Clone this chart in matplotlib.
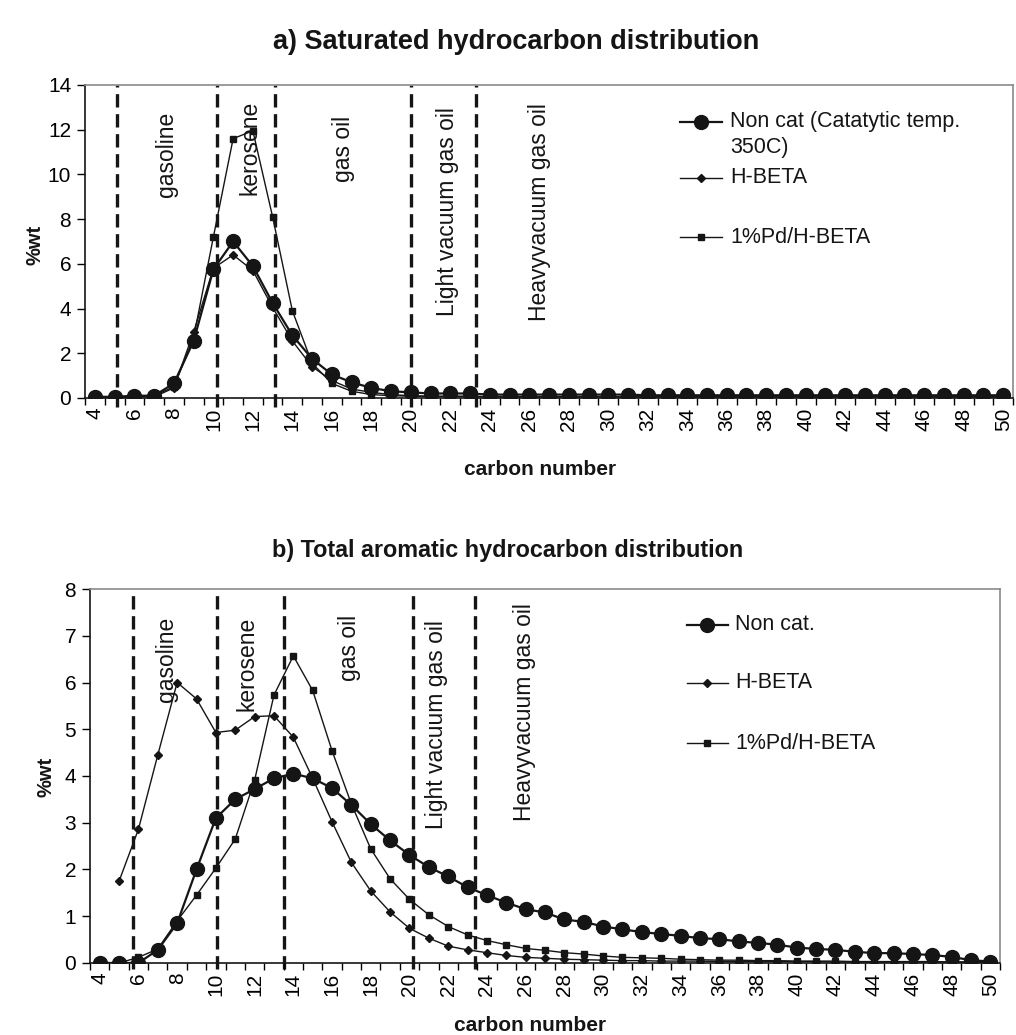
import numpy as np
import matplotlib
matplotlib.use("Agg")
import matplotlib.pyplot as plt
from matplotlib.lines import Line2D

plt.rcParams['font.family'] = ['Liberation Sans', 'DejaVu Sans']

carbon = list(range(4, 51))

# a) saturated hydrocarbons, %wt, C4..C50
sat_noncat = [0.05, 0.05, 0.1, 0.1, 0.65, 2.55, 5.75, 7.0, 5.9, 4.25, 2.8, 1.75, 1.05, 0.7,
              0.45, 0.3, 0.25, 0.2, 0.2, 0.2, 0.15, 0.15, 0.15, 0.15, 0.15, 0.15, 0.15, 0.15,
              0.12, 0.12, 0.12, 0.12, 0.12, 0.12, 0.12, 0.12, 0.12, 0.12, 0.12, 0.12, 0.12,
              0.12, 0.12, 0.12, 0.12, 0.12, 0.12]
sat_hbeta = [0.02, 0.02, 0.05, 0.05, 0.45, 2.95, 5.8, 6.4, 5.7, 4.05, 2.55, 1.4, 0.78, 0.4,
             0.25, 0.15, 0.1, 0.08, 0.08, 0.08, 0.06, 0.06, 0.05, 0.05, 0.05, 0.05, 0.05, 0.05,
             0.05, 0.05, 0.05, 0.05, 0.05, 0.05, 0.05, 0.05, 0.05, 0.05, 0.05, 0.05, 0.05,
             0.05, 0.05, 0.05, 0.05, 0.05, 0.05]
sat_pd = [0.02, 0.02, 0.05, 0.1, 0.5, 2.7, 7.2, 11.6, 11.95, 8.1, 3.9, 1.55, 0.65, 0.3,
          0.15, 0.1, 0.08, 0.06, 0.06, 0.06, 0.05, 0.05, 0.05, 0.05, 0.05, 0.05, 0.05, 0.05,
          0.05, 0.05, 0.05, 0.05, 0.05, 0.05, 0.05, 0.05, 0.05, 0.05, 0.05, 0.05, 0.05,
          0.05, 0.05, 0.05, 0.05, 0.05, 0.05]

# b) total aromatics, %wt, C4..C50
aro_noncat = [0.0, 0.0, 0.0, 0.28, 0.85, 2.0, 3.1, 3.5, 3.72, 3.95, 4.05, 3.95, 3.74, 3.38,
              2.97, 2.62, 2.31, 2.05, 1.85, 1.62, 1.45, 1.29, 1.15, 1.08, 0.93, 0.88, 0.78,
              0.72, 0.66, 0.62, 0.58, 0.53, 0.51, 0.46, 0.43, 0.39, 0.33, 0.30, 0.28, 0.24,
              0.21, 0.21, 0.19, 0.17, 0.13, 0.06, 0.03]
aro_hbeta = [np.nan, 1.75, 2.86, 4.45, 6.0, 5.65, 4.93, 4.98, 5.27, 5.29, 4.83, 3.95, 3.02,
             2.15, 1.54, 1.09, 0.74, 0.53, 0.36, 0.28, 0.22, 0.16, 0.12, 0.1, 0.08, 0.07,
             0.06, 0.05, 0.05, 0.04, 0.04, 0.04, 0.03, 0.03, 0.03, 0.03, 0.03, 0.03, 0.02,
             0.02, 0.02, 0.02, 0.02, 0.02, 0.02, 0.02, 0.02]
aro_pd = [0.0, 0.0, 0.12, 0.3, 0.9, 1.45, 2.03, 2.65, 3.91, 5.73, 6.57, 5.83, 4.54, 3.4,
          2.44, 1.8, 1.36, 1.03, 0.78, 0.6, 0.48, 0.39, 0.31, 0.27, 0.22, 0.19, 0.15, 0.12,
          0.11, 0.1, 0.08, 0.07, 0.06, 0.06, 0.05, 0.05, 0.04, 0.04, 0.04, 0.03, 0.03,
          0.03, 0.03, 0.03, 0.02, 0.02, 0.02]

regions = ["gasoline", "kerosene", "gas oil", "Light vacuum gas oil", "Heavyvacuum gas oil"]
sat_cuts = [5.1, 10.2, 13.1, 20.0, 23.3]
aro_cuts = [5.7, 10.05, 13.5, 20.2, 23.4]
sat_label_x = [7.65, 11.87, 16.6, 21.87, 26.5]
sat_label_top = [12.8, 13.3, 12.6, 13.0, 13.2]
aro_label_x = [7.46, 11.6, 16.9, 21.4, 25.94]
aro_label_top = [7.41, 7.41, 7.44, 7.33, 7.69]

INK = '#151515'

fig = plt.figure(figsize=(10.16, 10.35), dpi=100)
ax1 = fig.add_axes([0.0837, 0.6155, 0.9134, 0.3024])
ax2 = fig.add_axes([0.0886, 0.0696, 0.8957, 0.3613])


def style(ax, ymax, cuts, dash_low):
    ax.set_xlim(3.5, 50.5)
    ax.set_ylim(0, ymax)
    ax.set_yticks(range(0, ymax + 1, 2 if ymax > 8 else 1))
    ax.set_xticks(range(4, 51, 2))
    ax.set_xticks(np.arange(3.5, 51, 1), minor=True)
    ax.tick_params(axis='x', which='major', length=0, pad=7, labelsize=15, labelrotation=90)
    ax.tick_params(axis='x', which='minor', length=5, width=1, direction='out')
    ax.tick_params(axis='y', length=6, width=1, direction='out', labelsize=15, pad=4)
    for s in ['top', 'right']:
        ax.spines[s].set_color('#8a8a8a')
        ax.spines[s].set_linewidth(1.2)
    for s in ['left', 'bottom']:
        ax.spines[s].set_color(INK)
        ax.spines[s].set_linewidth(1.2)
    for c in cuts:
        ax.axvline(c, ymin=dash_low, ymax=1, clip_on=False, color=INK, lw=2.4,
                   dashes=(4, 2), zorder=1)


def legend(ax, x0, x1, xt, entries, fs):
    # hand-placed legend keys: a short line with one marker in the middle
    for y, label, kw in entries:
        ax.add_line(Line2D([x0, x1], [y, y], transform=ax.transAxes, color=INK,
                           lw=kw['lw'], clip_on=False))
        ax.add_line(Line2D([(x0 + x1) / 2], [y], transform=ax.transAxes, color=INK,
                           marker=kw['marker'], markersize=kw['markersize'],
                           linestyle='none', clip_on=False))
        ax.text(xt, y, label, transform=ax.transAxes, fontsize=fs, va='center',
                ha='left', color=INK)


circ = dict(marker='o', markersize=10, lw=1.6)
diam = dict(marker='D', markersize=4, lw=1.0)
sq = dict(marker='s', markersize=5, lw=1.0)

# --- a) saturated
style(ax1, 14, sat_cuts, -0.03)
ax1.plot(carbon, sat_pd, color=INK, zorder=3, **sq)
ax1.plot(carbon, sat_hbeta, color=INK, zorder=4, **diam)
ax1.plot(carbon, sat_noncat, color=INK, zorder=5, **circ)
for name, x, y in zip(regions, sat_label_x, sat_label_top):
    ax1.text(x, y, name, rotation=90, ha='center', va='top', fontsize=16.5, color=INK)
legend(ax1, 0.641, 0.686, 0.695,
       [(0.882, 'Non cat (Catatytic temp.', circ), (0.703, 'H-BETA', diam),
        (0.514, '1%Pd/H-BETA', sq)], 15.5)
ax1.text(0.695, 0.799, '350C)', transform=ax1.transAxes, fontsize=15.5, va='center',
         ha='left', color=INK)

# --- b) aromatics
style(ax2, 8, aro_cuts, -0.015)
ax2.plot(carbon, aro_pd, color=INK, zorder=3, **sq)
ax2.plot(carbon, aro_hbeta, color=INK, zorder=4, **diam)
ax2.plot(carbon, aro_noncat, color=INK, zorder=5, **circ)
for name, x, y in zip(regions, aro_label_x, aro_label_top):
    ax2.text(x, y, name, rotation=90, ha='center', va='top', fontsize=16.5, color=INK)
legend(ax2, 0.656, 0.701, 0.709,
       [(0.904, 'Non cat.', circ), (0.749, 'H-BETA', diam), (0.588, '1%Pd/H-BETA', sq)], 15.5)

fig.text(0.508, 0.959, 'a) Saturated hydrocarbon distribution', ha='center', va='center',
         fontsize=19.5, fontweight='bold', color=INK)
fig.text(0.5, 0.468, 'b) Total aromatic hydrocarbon distribution', ha='center',
         va='center', fontsize=16.8, fontweight='bold', color=INK)
fig.text(0.532, 0.546, 'carbon number', ha='center', va='center', fontsize=15,
         fontweight='bold', color=INK)
fig.text(0.522, 0.009, 'carbon number', ha='center', va='center', fontsize=15,
         fontweight='bold', color=INK)
fig.text(0.034, 0.763, '%wt', rotation=90, ha='center', va='center', fontsize=14.5,
         fontweight='bold', color=INK)
fig.text(0.045, 0.249, '%wt', rotation=90, ha='center', va='center', fontsize=14.5,
         fontweight='bold', color=INK)

fig.savefig('out.png', dpi=100, facecolor='white')
